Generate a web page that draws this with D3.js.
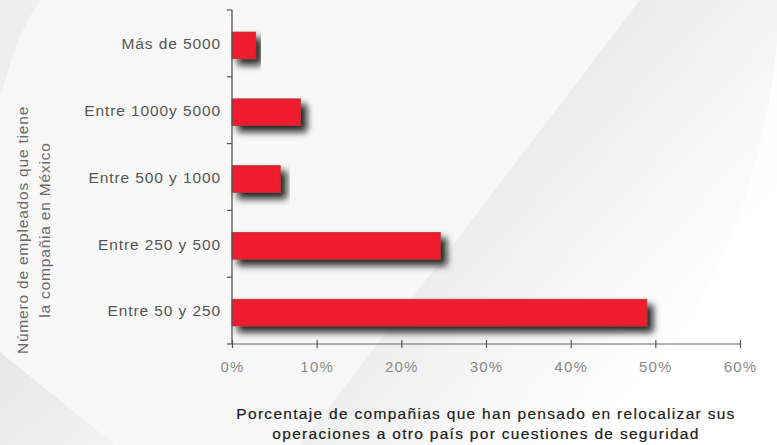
<!DOCTYPE html>
<html>
<head>
<meta charset="utf-8">
<script src="https://cdn.jsdelivr.net/npm/d3@7"></script>
<style>
  body { margin: 0; background: #f7f7f7; }
  svg { display: block; font-family: "Liberation Sans", Arial, sans-serif; }
</style>
</head>
<body>
<svg width="777" height="445"></svg>
<script>
// categories, top to bottom
var categories = ["Más de 5000", "Entre 1000y 5000", "Entre 500 y 1000", "Entre 250 y 500", "Entre 50 y 250"];
// share of companies (fraction)
var values = [0.028, 0.081, 0.057, 0.246, 0.49];
var xTicks = [0, 0.1, 0.2, 0.3, 0.4, 0.5, 0.6];
var yTitle = ["Número de empleados que tiene", "la compañia en México"];
var xTitle = ["Porcentaje de compañias que han pensado en relocalizar sus",
              "operaciones a otro país por cuestiones de seguridad"];

var data = categories.map(function(c, i) { return {cat: c, val: values[i]}; });

var svg = d3.select("svg");
var W = 777, H = 445;
var mLeft = 232, mRight = 740, mTop = 10, mBottom = 344;

var defs = svg.append("defs");

// background swoosh gradient
var grad = defs.append("linearGradient").attr("id", "swoosh")
  .attr("x1", "0%").attr("y1", "30%").attr("x2", "70%").attr("y2", "90%");
grad.append("stop").attr("offset", "0%").attr("stop-color", "#e0e0e0");
grad.append("stop").attr("offset", "55%").attr("stop-color", "#f1f1f1");
grad.append("stop").attr("offset", "100%").attr("stop-color", "#ffffff");

var grad2 = defs.append("linearGradient").attr("id", "corner")
  .attr("x1", "0%").attr("y1", "0%").attr("x2", "100%").attr("y2", "100%");
grad2.append("stop").attr("offset", "0%").attr("stop-color", "#e6e6e6");
grad2.append("stop").attr("offset", "100%").attr("stop-color", "#f3f3f3");

var shadow = defs.append("filter").attr("id", "shadow")
  .attr("x", "-10%").attr("y", "-50%").attr("width", "130%").attr("height", "220%");
shadow.append("feDropShadow").attr("dx", 6).attr("dy", 6).attr("stdDeviation", 3.5)
  .attr("flood-color", "#111").attr("flood-opacity", 0.9);

svg.append("rect").attr("width", W).attr("height", H).attr("fill", "#f8f8f8");

// big diagonal band on the right
svg.append("path")
  .attr("d", "M640,0 L300,445 L777,445 L777,0 Z")
  .attr("fill", "url(#swoosh)");
// white curved area bottom right
svg.append("path")
  .attr("d", "M777,40 C760,220 690,360 560,445 L777,445 Z")
  .attr("fill", "#ffffff").attr("opacity", 0.8);

// bottom-left corner shade
svg.append("path")
  .attr("d", "M0,352 L115,445 L0,445 Z")
  .attr("fill", "url(#corner)");
// top-left soft curve
svg.append("path")
  .attr("d", "M0,0 L40,0 C20,30 10,60 0,100 Z")
  .attr("fill", "#efefef");

var x = d3.scaleLinear().domain([0, 0.6]).range([mLeft, mRight]);
var y = d3.scaleBand().domain(categories).range([mTop + 2, mBottom + 2])
  .paddingInner(0.6).paddingOuter(0.3);

// bars
svg.append("g").selectAll("rect")
  .data(data)
  .enter().append("rect")
  .attr("x", x(0))
  .attr("y", function(d) { return y(d.cat); })
  .attr("width", function(d) { return x(d.val) - x(0); })
  .attr("height", y.bandwidth())
  .attr("fill", "#ee1b2e")
  .attr("stroke", "#b03a30")
  .attr("stroke-width", 0.8)
  .attr("filter", "url(#shadow)");

// y axis: line + boundary ticks
var step = (mBottom - mTop) / categories.length;
var yAxis = svg.append("g");
yAxis.append("line").attr("x1", mLeft).attr("x2", mLeft).attr("y1", mTop).attr("y2", mBottom)
  .attr("stroke", "#555").attr("stroke-width", 1.3);
yAxis.selectAll("line.tk")
  .data(d3.range(categories.length + 1))
  .enter().append("line").attr("class", "tk")
  .attr("x1", mLeft - 5).attr("x2", mLeft)
  .attr("y1", function(i) { return mTop + i * step; })
  .attr("y2", function(i) { return mTop + i * step; })
  .attr("stroke", "#555").attr("stroke-width", 1.2);

// category labels
svg.append("g")
  .attr("transform", "translate(" + (mLeft - 11) + ",0)")
  .call(d3.axisLeft(y).tickSize(0))
  .call(function(g) { g.select(".domain").remove(); })
  .selectAll("text")
  .attr("x", 0)
  .attr("dy", "0.25em")
  .style("font-size", "15.5px")
  .style("letter-spacing", "0.9px")
  .style("fill", "#555");

// x axis
var xAxis = svg.append("g")
  .attr("transform", "translate(0," + mBottom + ")")
  .call(d3.axisBottom(x).tickValues(xTicks).tickSize(4).tickFormat(d3.format(".0%")));
xAxis.select(".domain").attr("stroke", "#666").attr("stroke-width", 1.2)
  .attr("d", "M" + mLeft + ",0H" + mRight);
xAxis.selectAll(".tick line").attr("y1", -4).attr("stroke", "#555").attr("stroke-width", 1.2);
xAxis.selectAll(".tick text")
  .attr("y", 17)
  .style("font-size", "15px")
  .style("letter-spacing", "1.2px")
  .style("fill", "#8a8a8a");

// y title
var yt = svg.append("text")
  .attr("transform", "translate(0,230) rotate(-90)")
  .attr("text-anchor", "middle")
  .style("font-size", "15.5px")
  .style("letter-spacing", "0.8px")
  .style("fill", "#6a6a6a");
yt.selectAll("tspan").data(yTitle).enter().append("tspan")
  .attr("x", 0)
  .attr("y", function(d, i) { return 28 + i * 22; })
  .text(function(d) { return d; });

// x title
var xt = svg.append("text")
  .attr("text-anchor", "middle")
  .style("font-size", "15.5px")
  .style("fill", "#1a1a1a")
  .style("stroke", "#1a1a1a")
  .style("stroke-width", "0.2px")
  .style("letter-spacing", "1.3px");
xt.selectAll("tspan").data(xTitle).enter().append("tspan")
  .attr("x", 486)
  .attr("y", function(d, i) { return 419 + i * 20; })
  .text(function(d) { return d; });
</script>
</body>
</html>
